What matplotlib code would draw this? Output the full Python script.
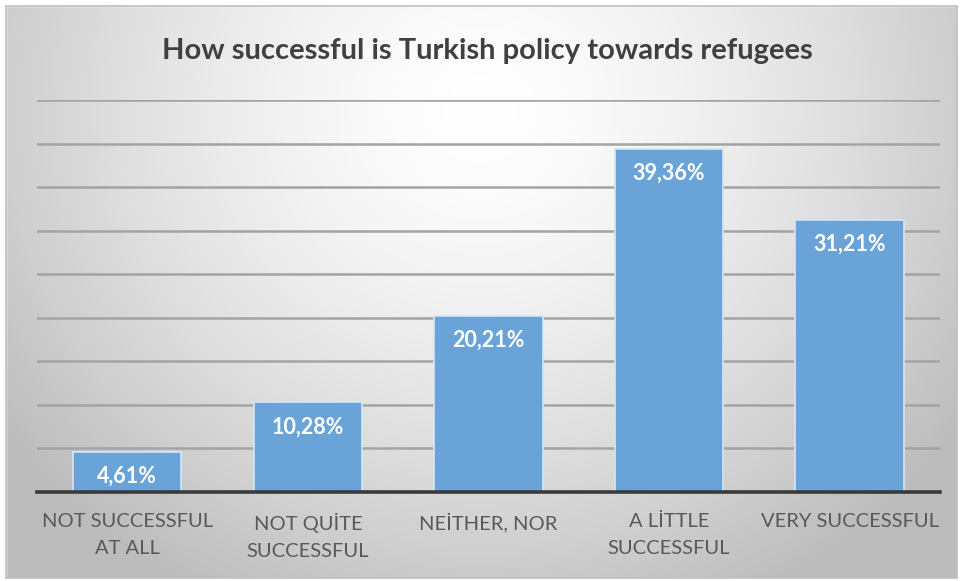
import matplotlib
matplotlib.use("Agg")
import matplotlib.pyplot as plt
import numpy as np
from matplotlib.patches import Rectangle

# data
categories = ["NOT SUCCESSFUL\nAT ALL", "NOT QUİTE\nSUCCESSFUL", "NEİTHER, NOR",
              "A LİTTLE\nSUCCESSFUL", "VERY SUCCESSFUL"]
values = [4.61, 10.28, 20.21, 39.36, 31.21]
value_labels = ["4,61%", "10,28%", "20,21%", "39,36%", "31,21%"]
title = "How successful is Turkish policy towards refugees"

plt.rcParams['font.family'] = ['Lato', 'DejaVu Sans']

fig = plt.figure(figsize=(9.6, 5.81), dpi=100)

# background: soft radial gradient, white in the upper middle, grey toward the corners
bg = fig.add_axes([0, 0, 1, 1])
bg.set_axis_off()
h, w = 581, 960
yy, xx = np.mgrid[0:h, 0:w]
d = np.sqrt(((xx - 480) / 600.0) ** 2 + ((yy - 110) / 560.0) ** 2)
shade = np.clip(1.0 - 0.27 * d ** 1.5, 0.74, 1.0)
img = np.dstack([shade, shade, shade])
bg.imshow(img, extent=[0, w, h, 0], aspect='auto', interpolation='bilinear')
bg.add_patch(Rectangle((0, 0), w, 6, color='white'))
bg.add_patch(Rectangle((0, 0), 6, h, color='white'))
bg.add_patch(Rectangle((0, h - 3), w, 3, color='white'))
bg.add_patch(Rectangle((w - 3, 0), 3, h, color='white'))
bg.add_patch(Rectangle((6, 6), w - 9, h - 9, fill=False, edgecolor='#bdbdbd', lw=1.2))
bg.set_xlim(0, w)
bg.set_ylim(h, 0)

ax = fig.add_axes([0.0385, 0.1532, 0.9405, 0.6747])
ax.patch.set_alpha(0)

x = np.arange(len(values))
bars = ax.bar(x, values, width=0.6, color='#6aa3d7', edgecolor='#d6e6f5',
              linewidth=1.2, zorder=3)

for b, lab in zip(bars, value_labels):
    ax.annotate(lab, (b.get_x() + b.get_width() / 2, b.get_height()),
                xytext=(0, -10), textcoords='offset points', ha='center', va='top',
                color='white', fontsize=15.5, fontweight='bold', zorder=4)

ax.set_xlim(-0.5, len(values) - 0.5)
ax.set_ylim(0, 45)
ax.set_yticks(np.arange(5, 50, 5))
ax.yaxis.grid(True, color='#a3a3a3', lw=1.8, zorder=0)
ax.tick_params(axis='y', left=False, labelleft=False)
ax.tick_params(axis='x', length=0, pad=15, labelsize=14.5, labelcolor='#595959')
ax.set_xticks(x)
ax.set_xticklabels(categories, linespacing=1.7)
for s in ['top', 'right', 'left']:
    ax.spines[s].set_visible(False)
ax.spines['bottom'].set_color('#3a3a3a')
ax.spines['bottom'].set_linewidth(2.6)
ax.spines['bottom'].set_zorder(5)

fig.text(0.508, 0.912, title, ha='center', va='center', fontsize=21,
         fontweight='bold', color='#404040')

fig.savefig("out.png", dpi=100)
